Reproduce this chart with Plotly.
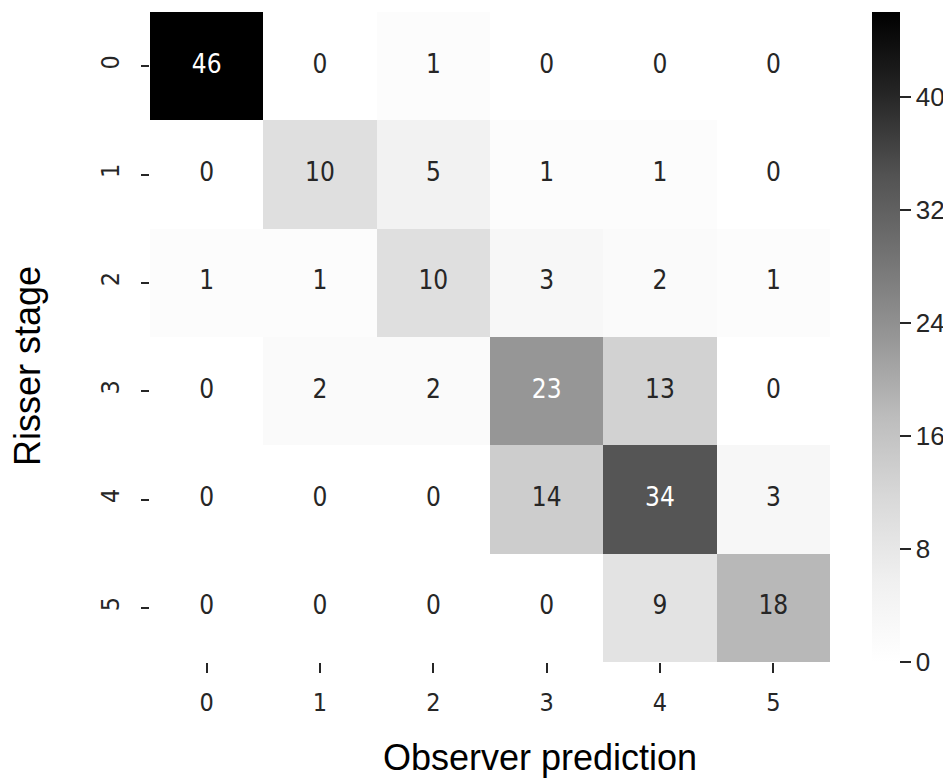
import plotly.graph_objects as go

# ---- data ----
pred_labels = ["0", "1", "2", "3", "4", "5"]      # observer prediction (columns)
stage_labels = ["0", "1", "2", "3", "4", "5"]     # Risser stage (rows)
row0 = [46, 0, 1, 0, 0, 0]
row1 = [0, 10, 5, 1, 1, 0]
row2 = [1, 1, 10, 3, 2, 1]
row3 = [0, 2, 2, 23, 13, 0]
row4 = [0, 0, 0, 14, 34, 3]
row5 = [0, 0, 0, 0, 9, 18]
matrix = [row0, row1, row2, row3, row4, row5]
cbar_ticks = [0, 8, 16, 24, 32, 40]

# matplotlib "Greys"
grey_levels = [255, 240, 217, 189, 150, 115, 82, 37, 0]
colorscale = [[i / 8, f"rgb({g},{g},{g})"] for i, g in enumerate(grey_levels)]
zmin, zmax = 0, max(max(r) for r in matrix)

def grey_at(v):
    t = (v - zmin) / (zmax - zmin) * 8
    i = min(int(t), 7)
    f = t - i
    return grey_levels[i] + (grey_levels[i + 1] - grey_levels[i]) * f

def lum(g):
    c = g / 255
    c = c / 12.92 if c <= 0.03928 else ((c + 0.055) / 1.055) ** 2.4
    return c

xs, ys, txt, tcol = [], [], [], []
for r, row in enumerate(matrix):
    for c, v in enumerate(row):
        xs.append(c)
        ys.append(r)
        txt.append(str(v))
        tcol.append("#262626" if lum(grey_at(v)) > 0.408 else "#ffffff")

cell_font = "DejaVu Sans Condensed, DejaVu Sans, sans-serif"
title_font = "Liberation Sans, Arial, sans-serif"

# page offset (body margin of the html page)
OFF = 8
PL, PR, PT, PB = 150, 830, 12, 662   # plot area in page pixels
W, H = 951 - OFF, 779 - OFF
PW, PH = PR - PL, PB - PT

fig = go.Figure()
fig.add_trace(go.Heatmap(
    z=matrix, x=list(range(6)), y=list(range(6)),
    colorscale=colorscale, zmin=zmin, zmax=zmax,
    hoverinfo="skip",
    colorbar=dict(
        x=(872 - PL) / PW, xanchor="left", xpad=0,
        y=0.5, yanchor="middle", ypad=0,
        len=1, lenmode="fraction", thickness=28,
        outlinewidth=0,
        tickvals=cbar_ticks, ticktext=[str(t) for t in cbar_ticks],
        ticks="outside", ticklen=11, tickwidth=1.5, tickcolor="#262626",
        tickfont=dict(family=title_font, size=26, color="#262626"),
    ),
))
fig.add_trace(go.Scatter(
    x=xs, y=ys, text=txt, mode="text",
    textfont=dict(family=cell_font, size=26, color=tcol),
    hoverinfo="skip", showlegend=False,
))

fig.update_layout(
    width=W, height=H,
    margin=dict(l=PL - OFF, r=W - (PR - OFF), t=PT - OFF, b=H - (PB - OFF), pad=0),
    paper_bgcolor="white", plot_bgcolor="white",
    showlegend=False,
    xaxis=dict(
        range=[-0.5, 5.5], tickvals=list(range(6)), ticktext=pred_labels,
        ticks="outside", ticklen=10, tickwidth=1.5, tickcolor="#262626",
        ticklabelstandoff=8,
        tickfont=dict(family=cell_font, size=25, color="#262626"),
        showgrid=False, zeroline=False, showline=False,
    ),
    yaxis=dict(
        range=[5.5, -0.5], tickvals=list(range(6)), ticktext=stage_labels,
        tickangle=-90,
        ticks="outside", ticklen=8, tickwidth=1.5, tickcolor="#262626",
        ticklabelstandoff=12,
        tickfont=dict(family=cell_font, size=25, color="#262626"),
        showgrid=False, zeroline=False, showline=False,
    ),
    annotations=[
        dict(text="Observer prediction", xref="paper", yref="paper",
             x=(540 - PL) / PW, y=-(757 - PB) / PH,
             xanchor="center", yanchor="middle", showarrow=False,
             font=dict(family=title_font, size=36, color="black")),
        dict(text="Risser stage", xref="paper", yref="paper",
             x=(27 - PL) / PW, y=(PB - 366) / PH,
             xanchor="center", yanchor="middle", showarrow=False,
             textangle=-90,
             font=dict(family=title_font, size=36, color="black")),
    ],
)

fig.write_html("out.html")
